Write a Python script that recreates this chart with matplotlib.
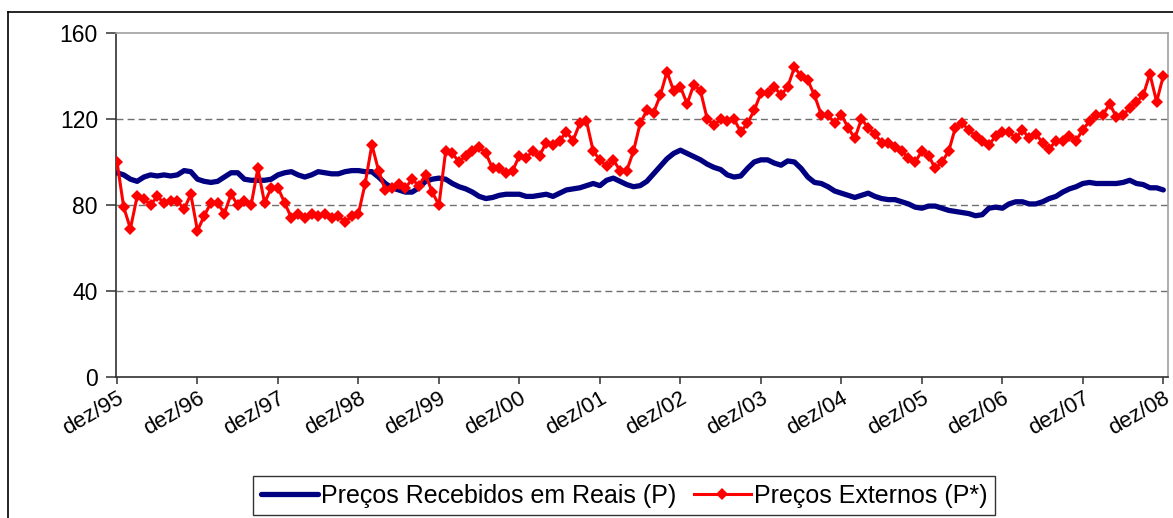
import matplotlib
matplotlib.use("Agg")
import matplotlib.pyplot as plt
from matplotlib.lines import Line2D

plt.rcParams['font.family'] = ['Liberation Sans', 'DejaVu Sans']

# --- DATA (monthly, dez/95 .. dez/08) ---
tick_labels = ['dez/95', 'dez/96', 'dez/97', 'dez/98', 'dez/99', 'dez/00', 'dez/01',
               'dez/02', 'dez/03', 'dez/04', 'dez/05', 'dez/06', 'dez/07', 'dez/08']

precos_reais = [
    95, 94, 92, 91, 93, 94, 93.5, 94, 93.5, 94,
    96, 95.5, 92, 91, 90.5, 91, 93, 95, 95, 92,
    91.5, 91.5, 91.5, 92, 94, 95, 95.5, 94, 93, 94,
    95.5, 95, 94.5, 94.5, 95.5, 96, 96, 95.5, 95.5, 93,
    90, 88, 87, 86, 86, 88, 91, 92, 92.5, 92,
    90, 88.5, 87.5, 86, 84, 83, 83.5, 84.5, 85, 85,
    85, 84, 84, 84.5, 85, 84, 85.5, 87, 87.5, 88,
    89, 90, 89, 91.5, 92.5, 91, 89.5, 88.5, 89, 91,
    94.5, 98, 101.5, 104, 105.5, 104, 102.5, 101, 99, 97.5,
    96.5, 94, 93, 93.5, 97, 100, 101, 101, 99.5, 98.5,
    100.5, 100, 97, 93, 90.5, 90, 88.5, 86.5, 85.5, 84.5,
    83.5, 84.5, 85.5, 84, 83, 82.5, 82.5, 81.5, 80.5, 79,
    78.5, 79.5, 79.5, 78.5, 77.5, 77, 76.5, 76, 75, 75.5,
    78.5, 79, 78.5, 80.5, 81.5, 81.5, 80.5, 80.5, 81.5, 83,
    84, 86, 87.5, 88.5, 90, 90.5, 90, 90, 90, 90,
    90.5, 91.5, 90, 89.5, 88, 88, 87,
]

precos_externos = [
    100, 79, 69, 84, 83, 80, 84, 81, 82, 82,
    78, 85, 68, 75, 81, 81, 76, 85, 80, 82,
    80, 97, 81, 88, 88, 81, 74, 76, 74, 76,
    75, 76, 74, 75, 72, 75, 76, 90, 108, 96,
    87, 88, 90, 88, 92, 89, 94, 86, 80, 105,
    104, 100, 103, 105, 107, 104, 97, 97, 95, 96,
    103, 102, 105, 103, 109, 108, 110, 114, 110, 118,
    119, 105, 101, 98, 101, 96, 96, 105, 118, 124,
    123, 131, 142, 133, 135, 127, 136, 133, 120, 117,
    120, 119, 120, 114, 118, 124, 132, 132, 135, 131,
    135, 144, 140, 138, 131, 122, 122, 118, 122, 116,
    111, 120, 116, 113, 109, 109, 107, 105, 102, 100,
    105, 103, 97, 100, 105, 116, 118, 115, 112, 110,
    108, 112, 114, 114, 111, 115, 111, 113, 109, 106,
    110, 110, 112, 110, 115, 119, 122, 122, 127, 121,
    122, 125, 128, 131, 141, 128, 140,
]

months = list(range(len(precos_reais)))

# --- FIGURE ---
W, H = 1173, 518
fig = plt.figure(figsize=(W / 100, H / 100), dpi=100)
ax = fig.add_axes([116 / W, 1 - 377 / H, (1168 - 116) / W, (377 - 33) / H])

# outer chart frame (left + top visible)
fig.add_artist(Line2D([8 / W, 8 / W], [1 - 12 / H, 0], transform=fig.transFigure, color='black', lw=1.2))
fig.add_artist(Line2D([8 / W, 1], [1 - 12 / H, 1 - 12 / H], transform=fig.transFigure, color='black', lw=1.2))

ax.plot(months, precos_reais, color='#000080', lw=3.8, solid_capstyle='round',
        label='Preços Recebidos em Reais (P)', zorder=3)
ax.plot(months, precos_externos, color='#FF0000', lw=2.2, marker='D', markersize=6.5,
        markeredgewidth=0, label='Preços Externos (P*)', zorder=4)

ax.set_xlim(-0.15, 156.7)
ax.set_ylim(0, 160)
ax.set_yticks([0, 40, 80, 120, 160])
ax.set_xticks(range(0, 157, 12))
ax.set_xticklabels(tick_labels, rotation=30, ha='right', rotation_mode='anchor')

for yv in [40, 80, 120]:
    ax.axhline(yv, color='#707070', lw=1.0, ls=(0, (5, 3)), zorder=1)

for side in ['top', 'right']:
    ax.spines[side].set_color('#a0a0a0')
    ax.spines[side].set_linewidth(1.2)
for side in ['left', 'bottom']:
    ax.spines[side].set_color('#303030')
    ax.spines[side].set_linewidth(1.2)

ax.tick_params(axis='y', labelsize=16.5, length=7, width=1.1, color='#303030', pad=6)
ax.tick_params(axis='x', labelsize=16, length=5, width=1.1, color='#303030', pad=3)

leg = ax.legend(loc='upper center', bbox_to_anchor=(0.532, 1 - 476 / H),
                bbox_transform=fig.transFigure, ncol=2, frameon=True, fancybox=False,
                fontsize=18, handlelength=2.3, handletextpad=0.1, columnspacing=0.7,
                borderpad=0.3, borderaxespad=0)
leg.get_frame().set_edgecolor('black')
leg.get_frame().set_linewidth(1.0)

fig.savefig('out.png', dpi=100)
